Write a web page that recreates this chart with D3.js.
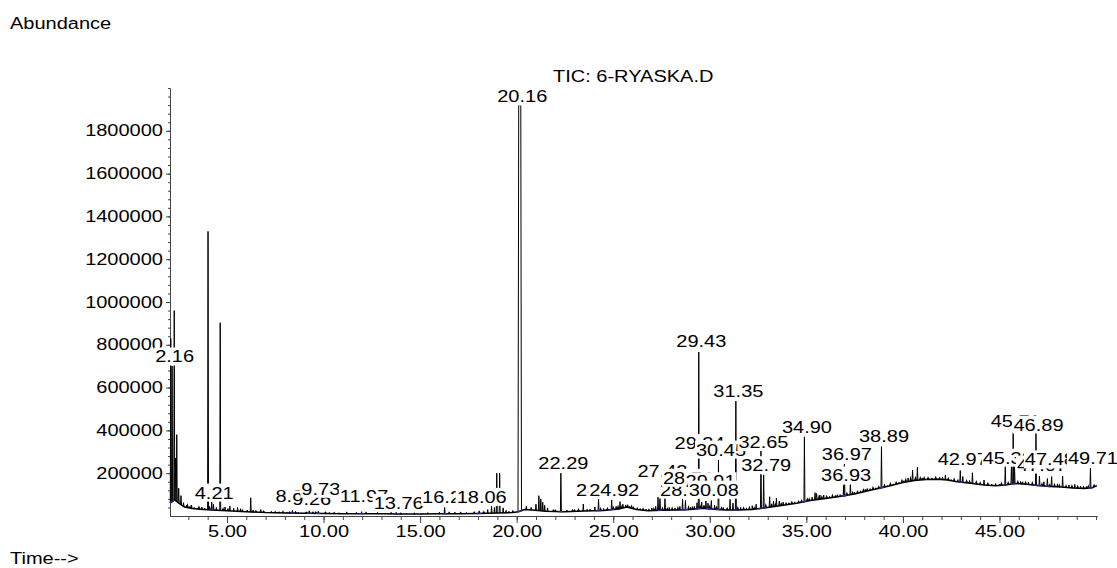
<!DOCTYPE html>
<html>
<head>
<meta charset="utf-8">
<script src="https://cdn.jsdelivr.net/npm/d3@7"></script>
<style>
  body { margin: 0; background: #fff; }
  text { font-family: "Liberation Sans", Arial, sans-serif; font-size: 16px; fill: #000; }
</style>
</head>
<body>
<svg id="chart" width="1117" height="568"></svg>
<script>
// Baseline of the TIC trace: [time (min), abundance]
const baseline = [
  [2.05, 60000], [2.3, 75000], [2.5, 60000], [2.8, 42000], [3.2, 35000], [3.6, 32000],
  [4.2, 28000], [5.0, 24000], [6.0, 20000], [7.0, 16000], [8.0, 14000], [9.0, 13000],
  [10.0, 12000], [11.0, 11000], [12.0, 11000], [13.0, 10000], [14.0, 9000], [15.0, 9000],
  [16.0, 10000], [17.0, 11000], [18.0, 12000], [19.0, 14000], [19.8, 16000], [20.1, 20000],
  [20.4, 30000], [20.8, 28000], [21.5, 22000], [22.5, 20000], [23.5, 23000], [24.5, 26000],
  [25.3, 33000], [25.7, 42000], [26.2, 30000], [26.8, 24000], [27.5, 27000], [28.3, 28000],
  [29.0, 30000], [29.6, 36000], [30.2, 32000], [30.8, 28000], [31.5, 28000], [32.2, 30000],
  [33.0, 40000], [33.8, 50000], [34.5, 60000], [35.2, 72000], [36.0, 82000], [36.8, 92000],
  [37.5, 103000], [38.2, 118000], [38.9, 132000], [39.5, 145000], [40.0, 156000], [40.6, 166000],
  [41.2, 171000], [41.8, 172000], [42.3, 168000], [42.8, 160000], [43.5, 153000], [44.2, 145000],
  [44.8, 141000], [45.3, 145000], [45.8, 152000], [46.4, 148000], [47.0, 142000], [47.6, 138000],
  [48.2, 135000], [48.8, 131000], [49.4, 128000], [49.8, 132000], [50.05, 142000]
]

// Peaks: [retention time, apex abundance, half width in min (optional, flat topped)]
const peaks = [
  [2.09, 830000], [2.16, 700000], [2.27, 960000], [2.33, 270000], [2.40, 380000], [2.50, 130000],
  [2.62, 95000], [2.75, 62000], [2.90, 50000], [3.05, 44000], [3.30, 40000], [3.45, 38000],
  [3.70, 42000], [3.85, 36000], [4.02, 1330000], [4.21, 65000], [4.30, 55000], [4.45, 40000],
  [4.65, 903000], [4.90, 42000], [5.15, 46000], [5.35, 36000], [5.55, 40000], [5.80, 30000],
  [6.05, 28000], [6.23, 85000], [6.50, 26000], [6.75, 30000], [7.30, 22000], [7.70, 20000],
  [8.10, 19000], [8.39, 26000], [8.70, 18000], [9.26, 24000], [9.45, 20000], [9.73, 22000],
  [10.3, 16000], [10.8, 15000], [11.4, 14000], [11.97, 20000], [12.5, 14000], [13.2, 13000],
  [13.76, 17000], [14.3, 12000], [15.1, 12000], [15.7, 13000], [16.27, 40000], [16.8, 18000],
  [17.4, 16000], [18.06, 24000], [18.5, 30000], [18.7, 45000], [18.85, 40000], [18.97, 200000],
  [19.12, 200000], [19.3, 38000], [19.6, 22000],
  [20.16, 1920000, 0.09], [20.5, 45000], [20.75, 40000], [21.0, 55000], [21.15, 95000],
  [21.25, 80000], [21.35, 65000], [21.45, 50000], [21.6, 38000], [21.9, 30000], [22.29, 200000],
  [22.6, 28000], [23.0, 30000], [23.45, 56000], [23.8, 32000], [24.05, 42000], [24.24, 78000],
  [24.5, 35000], [24.92, 75000], [25.15, 45000], [25.35, 67000], [25.5, 55000], [25.65, 52000],
  [25.85, 45000], [26.05, 43000], [26.4, 35000], [26.7, 32000], [27.0, 37000], [27.2, 45000],
  [27.32, 88000], [27.42, 98000], [27.68, 92000], [27.9, 40000], [28.2, 38000], [28.45, 45000],
  [28.59, 78000], [28.74, 72000], [29.0, 40000], [29.2, 45000], [29.34, 62000], [29.43, 766000],
  [29.58, 65000], [29.8, 70000], [29.91, 60000], [30.08, 72000], [30.25, 50000], [30.45, 262000],
  [30.7, 40000], [31.05, 78000], [31.2, 60000], [31.35, 537000], [31.6, 40000], [31.9, 38000],
  [32.2, 48000], [32.4, 55000], [32.65, 304000], [32.79, 192000], [33.1, 90000], [33.3, 70000],
  [33.45, 83000], [33.6, 70000], [33.8, 65000], [34.1, 62000], [34.4, 66000], [34.9, 370000],
  [35.3, 88000], [35.45, 109000], [35.53, 105000], [35.7, 98000], [35.9, 98000], [36.2, 92000],
  [36.5, 96000], [36.75, 100000], [36.93, 145000], [36.97, 243000], [37.28, 150000], [37.5, 112000],
  [37.8, 118000], [38.05, 125000], [38.3, 128000], [38.6, 132000], [38.89, 324000], [39.2, 142000],
  [39.5, 150000], [39.8, 158000], [40.05, 165000], [40.27, 178000], [40.5, 215000], [40.75, 228000],
  [41.0, 178000], [41.5, 178000], [42.2, 192000], [42.5, 170000], [42.97, 212000], [43.1, 185000],
  [43.6, 202000], [44.2, 168000], [44.6, 150000], [45.0, 148000], [45.30, 234000], [45.62, 234000],
  [45.71, 393000], [45.78, 230000], [46.2, 160000], [46.5, 158000], [46.89, 393000], [47.07, 187000],
  [47.3, 160000], [47.48, 175000], [47.7, 184000], [48.0, 150000], [48.27, 187000], [48.6, 145000],
  [48.9, 148000], [49.2, 140000], [49.5, 138000], [49.71, 223000]
]

// Small noise spikes: [retention time, rise above baseline]
const noise = [
  [2.95, 12000], [3.15, 15000], [3.55, 10000], [4.1, 12000], [4.8, 9000], [5.05, 8000],
  [5.7, 9000], [6.35, 7000], [6.9, 6000], [7.5, 5000], [7.9, 7000], [8.25, 5000], [8.55, 6000],
  [9.1, 5000], [9.6, 6000], [10.1, 5000], [10.55, 4000], [11.2, 5000], [11.7, 4000], [12.2, 5000],
  [12.8, 4000], [13.5, 5000], [14.0, 4000], [14.7, 4000], [15.4, 5000], [16.0, 5000], [16.5, 6000],
  [17.1, 5000], [17.8, 6000], [18.3, 7000], [19.45, 8000], [19.8, 7000],
  [22.0, 6000], [22.9, 7000], [23.2, 8000], [23.65, 6000], [24.35, 9000], [24.7, 8000], [25.0, 10000],
  [25.25, 12000], [25.45, 9000], [25.75, 8000], [25.95, 10000], [26.25, 7000], [26.55, 8000],
  [26.85, 6000], [27.1, 9000], [27.55, 10000], [27.8, 8000], [28.05, 9000], [28.35, 10000],
  [28.9, 12000], [29.1, 9000], [29.5, 11000], [29.7, 14000], [30.0, 12000], [30.35, 10000],
  [30.6, 9000], [30.9, 8000], [31.45, 10000], [31.75, 9000], [32.05, 10000], [32.3, 8000],
  [32.9, 12000], [33.2, 14000], [33.4, 10000], [33.7, 9000], [33.95, 8000], [34.25, 9000],
  [34.6, 7000], [34.75, 8000], [35.05, 10000], [35.15, 9000], [35.65, 12000], [35.8, 10000],
  [36.05, 9000], [36.35, 10000], [36.6, 8000], [37.1, 10000], [37.4, 9000], [37.65, 8000],
  [37.95, 10000], [38.15, 9000], [38.45, 10000], [38.75, 8000], [39.05, 9000], [39.35, 10000],
  [39.65, 9000], [39.95, 11000], [40.15, 12000], [40.4, 14000], [40.65, 12000], [40.9, 10000],
  [41.1, 9000], [41.3, 8000], [41.7, 9000], [41.9, 7000], [42.05, 8000], [42.35, 9000],
  [42.65, 10000], [42.85, 8000], [43.3, 10000], [43.45, 9000], [43.8, 10000], [44.0, 8000],
  [44.4, 9000], [44.8, 8000], [45.1, 10000], [45.45, 9000], [45.95, 10000], [46.1, 8000],
  [46.35, 9000], [46.7, 10000], [47.2, 9000], [47.6, 8000], [47.85, 10000], [48.1, 9000],
  [48.45, 8000], [48.75, 10000], [49.05, 9000], [49.35, 8000], [49.6, 10000], [49.9, 9000]
]

// Peak labels: [text, retention time, abundance level of the label centre]
const peakLabels = [
  ['2.16', 2.16, 743000], ['4.21', 4.21, 107000], ['8.39', 8.39, 90000], ['9.26', 9.26, 75000],
  ['9.73', 9.73, 125000], ['11.97', 11.97, 90000], ['13.76', 13.76, 59000], ['16.27', 16.27, 87000],
  ['18.06', 18.06, 87000], ['20.16', 20.16, 1958000], ['22.29', 22.29, 243000], ['24.24', 24.24, 121000],
  ['24.92', 24.92, 121000], ['27.42', 27.42, 207000], ['28.59', 28.59, 121000], ['28.74', 28.74, 176000],
  ['29.34', 29.34, 339000], ['29.43', 29.43, 815000], ['29.91', 29.91, 160000], ['30.08', 30.08, 121000],
  ['30.45', 30.45, 308000], ['31.35', 31.35, 581000], ['32.65', 32.65, 343000], ['32.79', 32.79, 235000],
  ['34.90', 34.90, 413000], ['36.93', 36.93, 187000], ['36.97', 36.97, 285000], ['38.89', 38.89, 370000],
  ['42.97', 42.97, 262000], ['45.30', 45.30, 270000], ['45.71', 45.71, 441000], ['46.89', 46.89, 425000],
  ['47.07', 47.07, 238000], ['47.48', 47.48, 262000], ['49.71', 49.71, 270000]
]

const timeTicks = [5, 10, 15, 20, 25, 30, 35, 40, 45]
const timeMinorTicks = d3.range(3, 51)
const abundanceTicks = [200000, 400000, 600000, 800000, 1000000, 1200000, 1400000, 1600000, 1800000]
const abundanceMinorTicks = d3.range(40000, 2000001, 40000)
const title = 'TIC: 6-RYASKA.D'

const svg = d3.select('#chart')
const SX = 1.25 // original font is drawn wide

const x = d3.scaleLinear().domain([2.05, 50.05]).range([170, 1097])
const y = d3.scaleLinear().domain([0, 2000000]).range([516, 88])

// baseline abundance at any time, from the read baseline points
const baseAt = d3.scaleLinear()
  .domain(baseline.map(d => d[0]))
  .range(baseline.map(d => d[1]))
  .clamp(true)

// stretch a text horizontally around its anchor
const stretch = (sel) => sel.each(function () {
  const t = d3.select(this)
  const tx = +t.attr('x') || 0
  t.attr('x', 0).attr('transform', `translate(${tx},0) scale(${SX},1)`)
})

const axisColor = '#444'

// X axis, minor then major ticks
svg.append('g')
  .attr('transform', `translate(0,${y(0)})`)
  .call(d3.axisBottom(x).tickValues(timeMinorTicks).tickFormat('').tickSize(4).tickSizeOuter(0))
  .call(g => g.select('.domain').attr('stroke', axisColor))
  .call(g => g.selectAll('line').attr('stroke', axisColor))

const xAxis = svg.append('g')
  .attr('transform', `translate(0,${y(0)})`)
  .call(d3.axisBottom(x).tickValues(timeTicks).tickFormat(d3.format('.2f')).tickSize(7).tickPadding(3).tickSizeOuter(0))
xAxis.select('.domain').attr('stroke', axisColor)
xAxis.selectAll('line').attr('stroke', axisColor)
xAxis.selectAll('text').attr('font-size', null).attr('font-family', null).call(stretch)

// Y axis
svg.append('g')
  .attr('transform', `translate(${x(2.05)},0)`)
  .call(d3.axisLeft(y).tickValues(abundanceMinorTicks).tickFormat('').tickSize(2).tickSizeOuter(0))
  .call(g => g.select('.domain').attr('stroke', axisColor))
  .call(g => g.selectAll('line').attr('stroke', axisColor))

const yAxis = svg.append('g')
  .attr('transform', `translate(${x(2.05)},0)`)
  .call(d3.axisLeft(y).tickValues(abundanceTicks).tickFormat(d3.format('d')).tickSize(4).tickPadding(3).tickSizeOuter(0))
yAxis.select('.domain').attr('stroke', axisColor)
yAxis.selectAll('line').attr('stroke', axisColor)
yAxis.selectAll('text').attr('font-size', null).attr('font-family', null).call(stretch)

// Trace: baseline then spikes
const line = d3.line().x(d => x(d[0])).y(d => y(d[1]))

svg.append('path')
  .datum(baseline)
  .attr('d', line)
  .attr('fill', 'none')
  .attr('stroke', '#000')
  .attr('stroke-width', 1.5)

svg.append('g')
  .selectAll('path')
  .data(noise)
  .join('path')
  .attr('d', d => line([[d[0] - 0.04, baseAt(d[0] - 0.04)], [d[0], baseAt(d[0]) + d[1]], [d[0] + 0.04, baseAt(d[0] + 0.04)]]))
  .attr('fill', 'none')
  .attr('stroke', '#000')
  .attr('stroke-width', 1.2)

svg.append('g')
  .selectAll('path')
  .data(peaks)
  .join('path')
  .attr('d', d => {
    if (d[2]) {
      const w = d[2]
      return line([[d[0] - w, baseAt(d[0] - w)], [d[0] - w * 0.6, d[1]], [d[0] + w * 0.6, d[1]], [d[0] + w, baseAt(d[0] + w)]])
    }
    const w = 0.025
    return line([[d[0] - w, baseAt(d[0] - w)], [d[0], d[1]], [d[0] + w, baseAt(d[0] + w)]])
  })
  .attr('fill', 'none')
  .attr('stroke', '#000')
  .attr('stroke-width', 1)

// integration baselines in blue under labelled peaks
svg.append('g')
  .selectAll('path')
  .data(peakLabels)
  .join('path')
  .attr('d', d => line([[d[1] - 0.12, baseAt(d[1] - 0.12)], [d[1] + 0.12, baseAt(d[1] + 0.12)]]))
  .attr('fill', 'none')
  .attr('stroke', '#2a2aa0')
  .attr('stroke-width', 1.4)

// Peak labels with white boxes; later labels cover earlier ones
const labelGroups = svg.append('g')
  .selectAll('g')
  .data(peakLabels)
  .join('g')

labelGroups.each(function (d) {
  const g = d3.select(this)
  const cx = x(d[1]) + 2.5
  const by = y(d[2]) + 5.5
  const rect = g.append('rect').attr('fill', '#fff')
  const t = g.append('text')
    .attr('text-anchor', 'middle')
    .attr('x', cx)
    .attr('y', by)
    .text(d[0])
    .call(stretch)
  const w = t.node().getComputedTextLength() * SX
  rect.attr('x', cx - w / 2 - 1).attr('y', by - 15).attr('width', w + 2).attr('height', 18)
})

// Titles
svg.append('text').attr('x', 553).attr('y', 82).text(title).call(stretch)
svg.append('text').attr('x', 10).attr('y', 29).text('Abundance').call(stretch)
svg.append('text').attr('x', 10).attr('y', 564).text('Time-->').call(stretch)
</script>
</body>
</html>
